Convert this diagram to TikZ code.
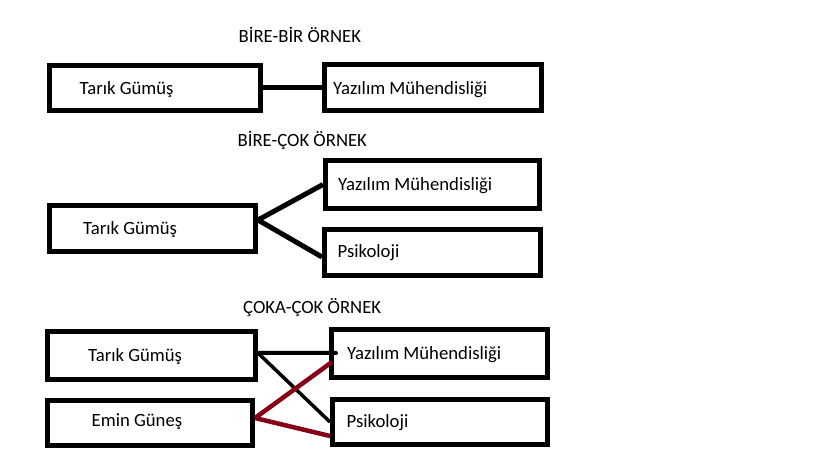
\documentclass[tikz,border=0pt]{standalone}
\usepackage{fontspec}
\setmainfont{Carlito}
\definecolor{darkred}{RGB}{136,0,21}
\begin{document}
\begin{tikzpicture}[x=1bp,y=-1bp,
  box/.style={draw=black,line width=5bp,rectangle,inner sep=0pt},
  lbl/.style={anchor=base west,inner sep=0pt,font=\fontsize{18.7bp}{22bp}\selectfont},
  link/.style={draw=black,line width=5bp},
  redlink/.style={draw=darkred,line width=4.5bp}]
\useasboundingbox (0,0) rectangle (819,460);
% section 1
\node[lbl] (t1) at (238.5,43) {BİRE-BİR ÖRNEK};
\node[box,minimum width=211bp,minimum height=45bp] (tg1) at (155,88) {};
\node[box,minimum width=217bp,minimum height=46bp] (ym1) at (433,87.5) {};
\node[lbl] (tg1t) at (79.5,94.5) {Tarık Gümüş};
\node[lbl] (ym1t) at (333,94.5) {Yazılım Mühendisliği};
\draw[link] ([yshift=0.5bp]tg1.east) -- ([yshift=0.5bp]tg1.east -| ym1.west);
% section 2
\node[lbl] (t2) at (237.5,147) {BİRE-ÇOK ÖRNEK};
\node[box,minimum width=206bp,minimum height=46bp] (tg2) at (152.5,228.5) {};
\node[box,minimum width=214bp,minimum height=48bp] (ym2) at (432.5,184.5) {};
\node[box,minimum width=216bp,minimum height=46bp] (ps2) at (432.5,252.5) {};
\node[lbl] (tg2t) at (83,235) {Tarık Gümüş};
\node[lbl] (ym2t) at (338,190.7) {Yazılım Mühendisliği};
\node[lbl] (ps2t) at (337.5,258) {Psikoloji};
\draw[link] ([yshift=8.5bp]tg2.east) -- (ym2.west);
\draw[link] ([yshift=8.5bp]tg2.east) -- ([yshift=-4.5bp]ps2.west);
% section 3
\node[lbl] (t3) at (243,314) {ÇOKA-ÇOK ÖRNEK};
\node[box,minimum width=208bp,minimum height=48bp] (tg3) at (151.5,355.5) {};
\node[box,minimum width=205bp,minimum height=45bp] (eg3) at (150,423) {};
\node[box,minimum width=216bp,minimum height=48bp] (ym3) at (439.5,353.5) {};
\node[box,minimum width=215bp,minimum height=45bp] (ps3) at (440,422) {};
\node[lbl] (tg3t) at (88,361.7) {Tarık Gümüş};
\node[lbl] (eg3t) at (91.5,426.7) {Emin Güneş};
\node[lbl] (ym3t) at (347,359.3) {Yazılım Mühendisliği};
\node[lbl] (ps3t) at (346.5,427.3) {Psikoloji};
\draw[link,line width=4bp,line cap=round] ([yshift=2.5bp]tg3.east) -- ([xshift=7bp,yshift=0.5bp]ym3.west);
\draw[link,line width=3.5bp] ([yshift=2.5bp]tg3.east) -- (ps3.west);
\draw[redlink] ([yshift=5bp]eg3.east) -- ([xshift=3bp,yshift=-8.5bp]ym3.west);
\draw[redlink] ([yshift=5bp]eg3.east) -- ([yshift=-14bp]ps3.west);
\end{tikzpicture}
\end{document}
